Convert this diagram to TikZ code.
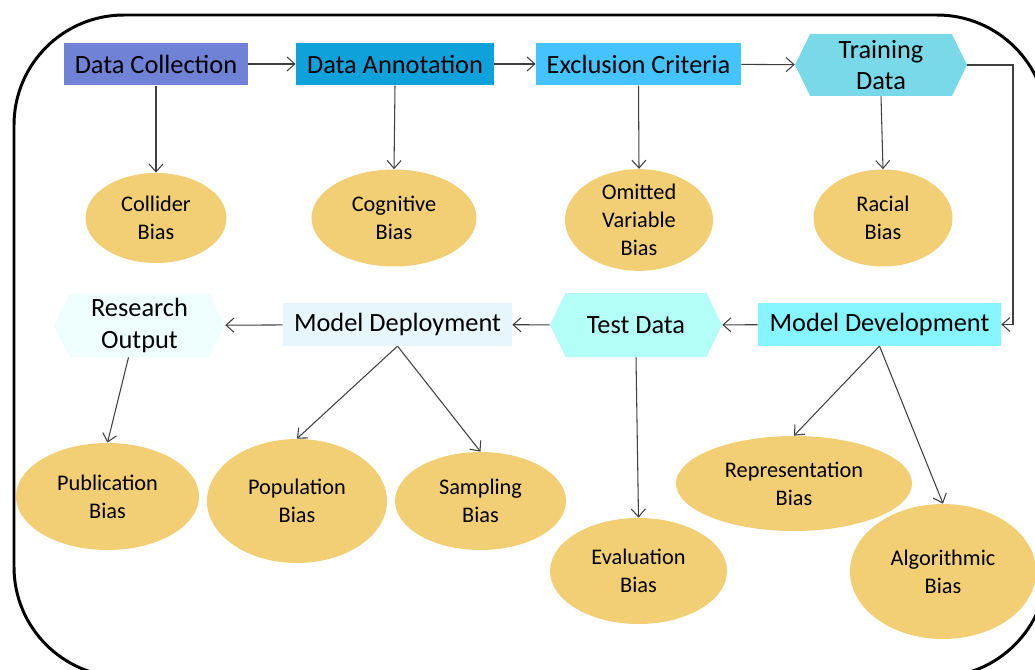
\documentclass[tikz,border=0pt]{standalone}
\usepackage{fontspec}
\setmainfont{Carlito}
\usetikzlibrary{shapes.geometric,shapes.symbols,arrows.meta}

\definecolor{collcol}{RGB}{112,130,214}
\definecolor{annocol}{RGB}{14,161,218}
\definecolor{exclcol}{RGB}{69,195,255}
\definecolor{traincol}{RGB}{121,217,232}
\definecolor{devcol}{RGB}{134,245,255}
\definecolor{testcol}{RGB}{180,254,248}
\definecolor{deplcol}{RGB}{230,246,252}
\definecolor{outcol}{RGB}{238,254,253}
\definecolor{biascol}{RGB}{242,206,116}
\definecolor{arrcol}{RGB}{64,64,64}

\begin{document}
\begin{tikzpicture}[
	stage/.style={rectangle, inner sep=0pt, minimum height=0.85cm, font=\fontsize{15}{18}\selectfont},
	datahex/.style={signal, signal to=east and west, signal pointer angle=128, inner sep=0pt, align=center, font=\fontsize{15}{18}\selectfont},
	bias/.style={ellipse, fill=biascol, inner sep=0pt, align=center, font=\fontsize{12.7}{16}\selectfont},
	arr/.style={draw=arrcol, line width=0.6pt, -{Straight Barb[length=4.5pt,width=8pt]}}
]
	\useasboundingbox (0, 0) rectangle (20.7, -13.4);
	\begin{scope}
		\clip (0, 0) rectangle (20.7, -13.4);
		\draw[line width=1.7pt, rounded corners=2.2cm] (0.28, -0.30) rectangle (20.94, -13.54);
	\end{scope}

	% top row
	\node[stage, fill=collcol, minimum width=3.68cm] (coll) at (3.12, -1.28) {Data Collection};
	\node[stage, fill=annocol, minimum width=3.96cm] (anno) at (7.90, -1.28) {Data Annotation};
	\node[stage, fill=exclcol, minimum width=4.10cm] (excl) at (12.77, -1.28) {Exclusion Criteria};
	\node[datahex, fill=traincol, minimum width=3.44cm, minimum height=1.24cm] (train) at (17.62, -1.30) {Training\\Data};

	\node[bias, minimum width=2.82cm, minimum height=1.80cm] (collider) at (3.12, -4.36) {Collider\\Bias};
	\node[bias, minimum width=3.30cm, minimum height=1.94cm] (cognitive) at (7.88, -4.36) {Cognitive\\Bias};
	\node[bias, minimum width=2.96cm, minimum height=1.94cm] (omitted) at (12.78, -4.40) {Omitted\\Variable\\Bias};
	\node[bias, minimum width=2.78cm, minimum height=1.94cm] (racial) at (17.66, -4.36) {Racial\\Bias};

	% bottom row
	\node[stage, fill=devcol, minimum width=4.86cm] (mdev) at (17.59, -6.49) {Model Development};
	\node[datahex, fill=testcol, minimum width=3.44cm, minimum height=1.28cm] (test) at (12.72, -6.50) {Test Data};
	\node[stage, fill=deplcol, minimum width=4.58cm] (mdep) at (7.95, -6.49) {Model Deployment};
	\node[datahex, fill=outcol, minimum width=3.42cm, minimum height=1.26cm] (resout) at (2.79, -6.51) {Research\\Output};

	\node[bias, minimum width=3.66cm, minimum height=2.14cm] (publication) at (2.15, -9.93) {Publication\\Bias};
	\node[bias, minimum width=3.60cm, minimum height=2.48cm] (population) at (5.94, -10.02) {Population\\Bias};
	\node[bias, minimum width=3.42cm, minimum height=1.96cm] (sampling) at (9.61, -10.02) {Sampling\\Bias};
	\node[bias, minimum width=3.54cm, minimum height=2.12cm] (evaluation) at (12.77, -11.42) {Evaluation\\Bias};
	\node[bias, minimum width=4.72cm, minimum height=1.90cm] (representation) at (15.88, -9.67) {Representation\\Bias};
	\node[bias, minimum width=3.72cm, minimum height=2.70cm] (algorithmic) at (18.86, -11.43) {Algorithmic\\Bias};

	% pipeline
	\draw[arr] (coll) -- (anno);
	\draw[arr] (anno) -- (excl);
	\draw[arr] (excl) -- (train);
	\coordinate (turn) at (20.26, -1.30);
	\draw[arr] (train.east) -- (turn) |- (mdev.east);
	\draw[arr] (mdev) -- (test);
	\draw[arr] (test) -- (mdep);
	\draw[arr] (mdep) -- (resout);

	% biases
	\draw[arr] (coll.south) -- (collider.north);
	\draw[arr] (anno.south) -- (cognitive.north);
	\draw[arr] (excl.south) -- (omitted.north);
	\draw[arr] (train.south) -- (racial.north);
	\draw[arr] ([xshift=-0.22cm]resout.south) -- (publication.north);
	\draw[arr] (mdep.south) -- (population.north);
	\draw[arr] (mdep.south) -- (sampling.north);
	\draw[arr] (test.south) -- (evaluation.north);
	\draw[arr] (mdev.south) -- (representation.north);
	\draw[arr] (mdev.south) -- (algorithmic.north);
\end{tikzpicture}
\end{document}
